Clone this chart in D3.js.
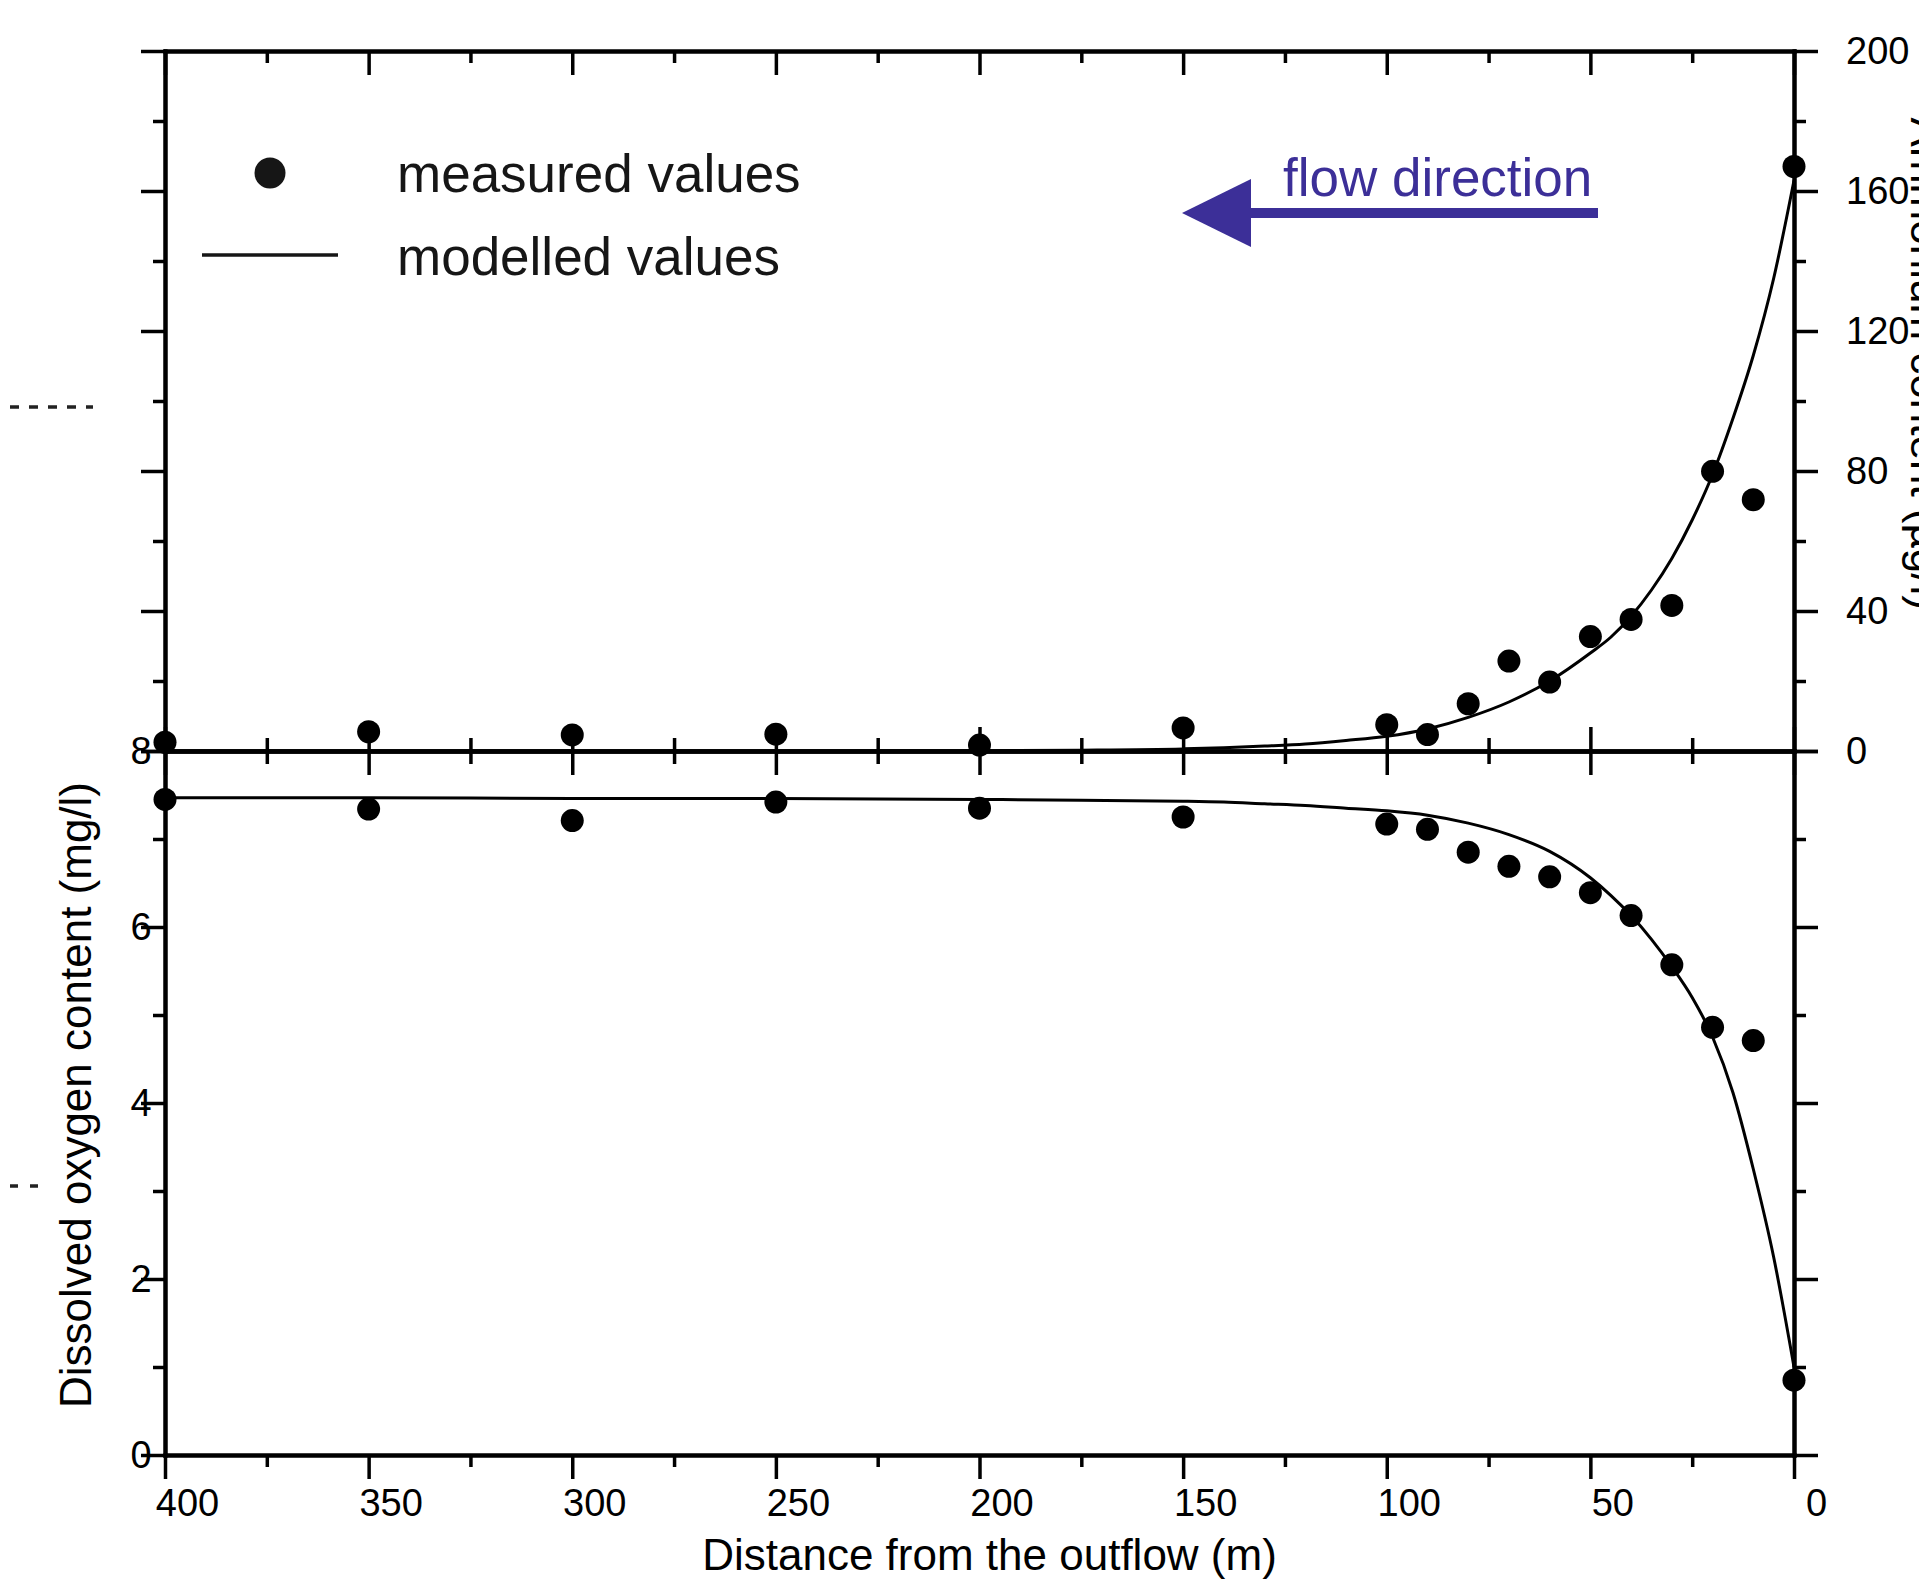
<!DOCTYPE html>
<html>
<head>
<meta charset="utf-8">
<script src="https://cdn.jsdelivr.net/npm/d3@7"></script>
<style>
  body { margin: 0; background: #fff; }
  svg { display: block; font-family: "Liberation Sans", Arial, sans-serif; }
</style>
</head>
<body>
<div class="canvas"></div>
<script>
/////////////////////////////////
//** DATA **//

// distance from the outflow (m) of each measurement
const distances = [400, 350, 300, 250, 200, 150, 100, 90, 80, 70, 60, 50, 40, 30, 20, 10, 0];
// measured values, upper panel (µg/l)
const measuredUpper = [2.5, 5.5, 4.6, 4.8, 1.7, 6.6, 7.5, 4.7, 13.5, 25.7, 19.7, 32.7, 37.6, 41.6, 79.9, 71.8, 167];
// measured dissolved oxygen (mg/l)
const measuredOxygen = [7.45, 7.34, 7.21, 7.42, 7.35, 7.25, 7.17, 7.11, 6.85, 6.69, 6.57, 6.39, 6.13, 5.57, 4.86, 4.71, 0.85];

// modelled curves
const modelDist = [400, 350, 300, 250, 200, 175, 150, 140, 130, 120, 110, 100, 90, 80, 70, 60, 50, 45, 40, 35, 30, 25, 20, 15, 10, 5, 0];
const modelUpper = [0, 0, 0, 0, 0.1, 0.25, 0.6, 0.9, 1.4, 2, 3, 4.2, 6.3, 9.6, 14, 20, 28, 32.5, 38.5, 46, 55, 66, 79, 95, 113, 135, 163];
const modelOxygen = [7.47, 7.47, 7.46, 7.46, 7.45, 7.44, 7.43, 7.42, 7.40, 7.38, 7.35, 7.32, 7.27, 7.18, 7.05, 6.86, 6.56, 6.36, 6.13, 5.86, 5.55, 5.2, 4.75, 4.12, 3.25, 2.25, 1.0];

// ticks
const xMajor = [400, 350, 300, 250, 200, 150, 100, 50, 0];
const xMinor = [375, 325, 275, 225, 175, 125, 75, 25];
const upperMajor = [0, 40, 80, 120, 160, 200];
const upperMinor = [20, 60, 100, 140, 180];
const oxygenMajor = [0, 2, 4, 6, 8];
const oxygenMinor = [1, 3, 5, 7];

/////////////////////////////////
//** DIMENSIONS **//

const dims = { width: 1919, height: 1586 };
const frame = { left: 165, right: 1794, top: 51, mid: 751, bottom: 1455 };
const tick = { major: 24, minor: 12 };
const flowColour = '#3c2f98';

const svg = d3.select('.canvas')
  .append('svg')
  .attr('width', dims.width)
  .attr('height', dims.height);

// scales
const x = d3.scaleLinear().domain([400, 0]).range([frame.left, frame.right]);
const yUp = d3.scaleLinear().domain([0, 200]).range([frame.mid, frame.top]);
const yOx = d3.scaleLinear().domain([0, 8]).range([frame.bottom, frame.mid]);

// helper: draws an axis and styles it like the original
const drawAxis = (axis, tx, ty, labels) => {
  const g = svg.append('g')
    .attr('transform', `translate(${tx}, ${ty})`)
    .call(axis);
  g.attr('font-size', 38).attr('font-family', '"Liberation Sans", Arial, sans-serif');
  g.selectAll('.domain').attr('stroke', '#000').attr('stroke-width', 4).attr('stroke-linecap', 'square');
  g.selectAll('.tick line').attr('stroke', '#000').attr('stroke-width', 3.5);
  if (!labels) g.selectAll('.tick text').remove();
  else g.selectAll('.tick text').attr('fill', '#000');
  return g;
};

/////////////////////////////////
//** AXES **//

// bottom x axis (ticks outward)
const bottomMajor = drawAxis(d3.axisBottom(x).tickValues(xMajor).tickSize(tick.major).tickSizeOuter(0).tickPadding(10).tickFormat(d3.format('d')), 0, frame.bottom, true);
bottomMajor.selectAll('.tick text').attr('dx', 22);
drawAxis(d3.axisBottom(x).tickValues(xMinor).tickSize(tick.minor).tickSizeOuter(0), 0, frame.bottom, false);

// middle axis (ticks cross)
drawAxis(d3.axisBottom(x).tickValues(xMajor).tickSize(tick.major).tickSizeOuter(0), 0, frame.mid, false);
drawAxis(d3.axisTop(x).tickValues(xMajor).tickSize(tick.major).tickSizeOuter(0), 0, frame.mid, false);
drawAxis(d3.axisBottom(x).tickValues(xMinor).tickSize(13).tickSizeOuter(0), 0, frame.mid, false);
drawAxis(d3.axisTop(x).tickValues(xMinor).tickSize(13).tickSizeOuter(0), 0, frame.mid, false);

// top axis (ticks inward)
drawAxis(d3.axisBottom(x).tickValues(xMajor).tickSize(tick.major).tickSizeOuter(0), 0, frame.top, false);
drawAxis(d3.axisBottom(x).tickValues(xMinor).tickSize(tick.minor).tickSizeOuter(0), 0, frame.top, false);

// upper panel, left (no labels) and right
drawAxis(d3.axisLeft(yUp).tickValues(upperMajor).tickSize(tick.major).tickSizeOuter(0), frame.left, 0, false);
drawAxis(d3.axisLeft(yUp).tickValues(upperMinor).tickSize(tick.minor).tickSizeOuter(0), frame.left, 0, false);
drawAxis(d3.axisRight(yUp).tickValues(upperMajor).tickSize(tick.major).tickSizeOuter(0).tickPadding(28), frame.right, 0, true);
drawAxis(d3.axisRight(yUp).tickValues(upperMinor).tickSize(tick.minor).tickSizeOuter(0), frame.right, 0, false);

// oxygen panel, left (labels sit on the tick ends) and right
const oxLeft = drawAxis(d3.axisLeft(yOx).tickValues(oxygenMajor).tickSize(tick.major).tickSizeOuter(0).tickPadding(0), frame.left, 0, true);
oxLeft.selectAll('.tick text').attr('x', -tick.major).attr('text-anchor', 'middle');
drawAxis(d3.axisLeft(yOx).tickValues(oxygenMinor).tickSize(tick.minor).tickSizeOuter(0), frame.left, 0, false);
drawAxis(d3.axisRight(yOx).tickValues(oxygenMajor).tickSize(tick.major).tickSizeOuter(0), frame.right, 0, false);
drawAxis(d3.axisRight(yOx).tickValues(oxygenMinor).tickSize(tick.minor).tickSizeOuter(0), frame.right, 0, false);

/////////////////////////////////
//** TITLES **//

svg.append('text')
  .attr('x', (frame.left + frame.right) / 2 + 10)
  .attr('y', 1570)
  .attr('text-anchor', 'middle')
  .attr('font-size', 44)
  .text('Distance from the outflow (m)');

svg.append('text')
  .attr('transform', `translate(91, ${(frame.mid + frame.bottom) / 2 - 8}) rotate(-90)`)
  .attr('text-anchor', 'middle')
  .attr('font-size', 44)
  .text('Dissolved oxygen content (mg/l)');

// right title, cut off by the page edge as in the original
svg.append('text')
  .attr('transform', `translate(1911, 610) rotate(90)`)
  .attr('text-anchor', 'end')
  .attr('font-size', 44)
  .text('Ammonium content (µg/l)');

// leftover dashes at the far left
svg.append('line')
  .attr('x1', 10).attr('x2', 93).attr('y1', 407).attr('y2', 407)
  .attr('stroke', '#222').attr('stroke-width', 3.5).attr('stroke-dasharray', '9,10');
svg.append('line')
  .attr('x1', 10).attr('x2', 50).attr('y1', 1186).attr('y2', 1186)
  .attr('stroke', '#222').attr('stroke-width', 3.5).attr('stroke-dasharray', '8,12');

/////////////////////////////////
//** CURVES AND POINTS **//

const modelPoints = modelDist.map((d, i) => ({ d, up: modelUpper[i], ox: modelOxygen[i] }));

const lineUp = d3.line().x(p => x(p.d)).y(p => yUp(p.up)).curve(d3.curveMonotoneX);
const lineOx = d3.line().x(p => x(p.d)).y(p => yOx(p.ox)).curve(d3.curveMonotoneX);

svg.append('path')
  .attr('d', lineUp(modelPoints))
  .attr('fill', 'none').attr('stroke', '#000').attr('stroke-width', 3);

svg.append('path')
  .attr('d', lineOx(modelPoints))
  .attr('fill', 'none').attr('stroke', '#000').attr('stroke-width', 3);

const measured = distances.map((d, i) => ({ d, up: measuredUpper[i], ox: measuredOxygen[i] }));

svg.append('g').selectAll('circle')
  .data(measured)
  .enter()
  .append('circle')
  .attr('cx', p => x(p.d))
  .attr('cy', p => yUp(p.up))
  .attr('r', 11.5)
  .attr('fill', '#000');

svg.append('g').selectAll('circle')
  .data(measured)
  .enter()
  .append('circle')
  .attr('cx', p => x(p.d))
  .attr('cy', p => yOx(p.ox))
  .attr('r', 11.5)
  .attr('fill', '#000');

/////////////////////////////////
//** LEGEND **//

svg.append('circle').attr('cx', 270).attr('cy', 173).attr('r', 15.5).attr('fill', '#161616');
svg.append('line').attr('x1', 202).attr('x2', 338).attr('y1', 255).attr('y2', 255)
  .attr('stroke', '#161616').attr('stroke-width', 3.5);
svg.append('text').attr('x', 397).attr('y', 192).attr('font-size', 53).attr('fill', '#161616').text('measured values');
svg.append('text').attr('x', 397).attr('y', 275).attr('font-size', 53).attr('fill', '#161616').text('modelled values');

// flow direction arrow
svg.append('text').attr('x', 1283).attr('y', 196).attr('font-size', 53).attr('fill', flowColour).text('flow direction');
svg.append('line').attr('x1', 1245).attr('x2', 1598).attr('y1', 213).attr('y2', 213)
  .attr('stroke', flowColour).attr('stroke-width', 10);
svg.append('path')
  .attr('d', 'M1182,213 L1251,179 L1251,247 Z')
  .attr('fill', flowColour);
</script>
</body>
</html>
